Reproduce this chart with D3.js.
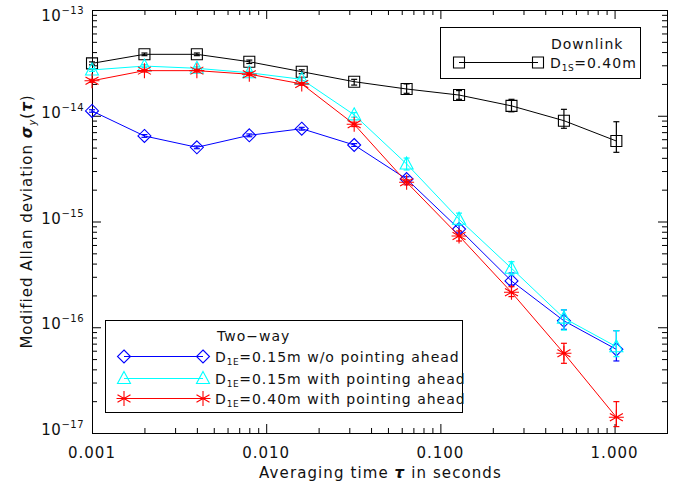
<!DOCTYPE html>
<html>
<head>
<meta charset="utf-8">
<script src="https://cdn.jsdelivr.net/npm/d3@7"></script>
<style>
  html, body { margin: 0; padding: 0; background: #fff; }
  svg { display: block; }
  text { font-family: "DejaVu Sans", sans-serif; fill: #111; }
</style>
</head>
<body>
<svg id="chart" width="685" height="487"></svg>
<script>
// Averaging times (s)
const tau = [0.001, 0.002, 0.004, 0.008, 0.016, 0.032, 0.064, 0.128, 0.256, 0.512, 1.024];

// Downlink, D1S = 0.40 m
const downVal = [3.13e-14, 3.81e-14, 3.81e-14, 3.24e-14, 2.61e-14, 2.10e-14, 1.79e-14, 1.57e-14, 1.24e-14, 8.98e-15, 5.77e-15];
const downLo  = [3.03e-14, 3.70e-14, 3.70e-14, 3.12e-14, 2.50e-14, 1.95e-14, 1.63e-14, 1.43e-14, 1.09e-14, 7.61e-15, 4.51e-15];
const downHi  = [3.23e-14, 3.92e-14, 3.92e-14, 3.36e-14, 2.72e-14, 2.21e-14, 2.00e-14, 1.73e-14, 1.43e-14, 1.15e-14, 8.78e-15];

// Two-way, D1E = 0.15 m without pointing ahead
const woVal = [1.11e-14, 6.44e-15, 5.03e-15, 6.53e-15, 7.54e-15, 5.29e-15, 2.52e-15, 8.49e-16, 2.74e-16, 1.15e-16, 6.18e-17];
const woLo  = [1.08e-14, 6.25e-15, 4.88e-15, 6.33e-15, 7.31e-15, 5.13e-15, 2.40e-15, 7.79e-16, 2.51e-16, 9.56e-17, 4.80e-17];
const woHi  = [1.14e-14, 6.63e-15, 5.18e-15, 6.73e-15, 7.77e-15, 5.45e-15, 2.65e-15, 9.27e-16, 3.26e-16, 1.46e-16, 9.28e-17];

// Two-way, D1E = 0.15 m with pointing ahead
const w15Val = [2.71e-14, 2.95e-14, 2.81e-14, 2.55e-14, 2.21e-14, 1.02e-14, 3.50e-15, 1.05e-15, 3.61e-16, 1.22e-16, 6.55e-17];
const w15Lo  = [2.63e-14, 2.86e-14, 2.72e-14, 2.47e-14, 2.14e-14, 9.7e-15, 3.07e-15, 9.27e-16, 3.12e-16, 9.4e-17, 5.27e-17];
const w15Hi  = [2.79e-14, 3.04e-14, 2.90e-14, 2.63e-14, 2.28e-14, 1.07e-14, 3.98e-15, 1.20e-15, 4.17e-16, 1.46e-16, 9.28e-17];

// Two-way, D1E = 0.40 m with pointing ahead
const w40Val = [2.14e-14, 2.67e-14, 2.67e-14, 2.47e-14, 2.00e-14, 8.30e-15, 2.35e-15, 7.30e-16, 2.14e-16, 5.67e-17, 1.41e-17];
const w40Lo  = [2.07e-14, 2.59e-14, 2.59e-14, 2.39e-14, 1.94e-14, 7.9e-15, 2.22e-15, 6.54e-16, 1.95e-16, 4.56e-17, 1.15e-17];
const w40Hi  = [2.21e-14, 2.75e-14, 2.75e-14, 2.55e-14, 2.06e-14, 8.7e-15, 2.48e-15, 8.13e-16, 2.42e-16, 7.05e-17, 1.98e-17];

// Axis ticks and labels
const xMajor = [0.001, 0.01, 0.1, 1];
const xLabels = ["0.001", "0.010", "0.100", "1.000"];
const yMajor = [1e-13, 1e-14, 1e-15, 1e-16, 1e-17];
const yExp = ["\u221213", "\u221214", "\u221215", "\u221216", "\u221217"];

const svg = d3.select("#chart");
const m = { left: 92, top: 10, right: 667, bottom: 433 };

const x = d3.scaleLog().domain([0.001, 2.0]).range([m.left, m.right]);
const y = d3.scaleLog().domain([1e-17, 1e-13]).range([m.bottom, m.top]);

// minor tick values: 2..9 in each decade
function minors(lo, hi) {
  const out = [];
  for (let e = Math.floor(Math.log10(lo)); e <= Math.ceil(Math.log10(hi)); e++) {
    for (let k = 2; k <= 9; k++) {
      const v = k * Math.pow(10, e);
      if (v > lo * 1.0001 && v < hi * 0.9999) out.push(v);
    }
  }
  return out;
}
const xMinor = minors(0.001, 2.0);
const yMinor = minors(1e-17, 1e-13);

const MAJ = 9, MIN = 5;
function tickAxis(gen, vals, size) {
  return gen.tickValues(vals).tickSize(size).tickSizeOuter(0).tickFormat("");
}
function drawAxis(axis, tx, ty) {
  const g = svg.append("g").attr("transform", `translate(${tx},${ty})`).call(axis);
  g.select(".domain").remove();
  g.selectAll(".tick line").attr("stroke", "#000").attr("stroke-width", 1);
  return g;
}
// ticks point inward on all four sides
drawAxis(tickAxis(d3.axisBottom(x), xMajor, -MAJ), 0, m.bottom);
drawAxis(tickAxis(d3.axisBottom(x), xMinor, -MIN), 0, m.bottom);
drawAxis(tickAxis(d3.axisTop(x), xMajor, -MAJ), 0, m.top);
drawAxis(tickAxis(d3.axisTop(x), xMinor, -MIN), 0, m.top);
drawAxis(tickAxis(d3.axisLeft(y), yMajor, -MAJ), m.left, 0);
drawAxis(tickAxis(d3.axisLeft(y), yMinor, -MIN), m.left, 0);
drawAxis(tickAxis(d3.axisRight(y), yMajor, -MAJ), m.right, 0);
drawAxis(tickAxis(d3.axisRight(y), yMinor, -MIN), m.right, 0);

// frame
svg.append("rect")
  .attr("x", m.left + 0.5).attr("y", m.top + 0.5)
  .attr("width", m.right - m.left).attr("height", m.bottom - m.top)
  .attr("fill", "none").attr("stroke", "#000").attr("stroke-width", 1);

// x tick labels
svg.append("g").selectAll("text").data(xMajor).join("text")
  .attr("x", d => x(d)).attr("y", 458)
  .attr("text-anchor", "middle")
  .style("font-size", "15px").style("letter-spacing", "1px")
  .text((d, i) => xLabels[i]);

// y tick labels: 10 with superscript exponent
const yl = svg.append("g").selectAll("text").data(yMajor).join("text")
  .attr("x", 84).attr("y", d => Math.max(y(d) + 2, 21))
  .attr("text-anchor", "end")
  .style("font-size", "15px").style("letter-spacing", "0.5px");
yl.append("tspan").text("10");
yl.append("tspan").attr("dy", -7).style("font-size", "10px").text((d, i) => yExp[i]);

// axis titles
const xt = svg.append("text").attr("x", m.left + (m.right - m.left) / 2 + 1).attr("y", 478)
  .attr("text-anchor", "middle").style("font-size", "15px").style("letter-spacing", "1.1px");
xt.append("tspan").text("Averaging time ");
xt.append("tspan").style("font-style", "italic").style("font-weight", "bold").text("\u03c4");
xt.append("tspan").text(" in seconds");

const yt = svg.append("text")
  .attr("transform", `translate(32,${(m.top + m.bottom) / 2}) rotate(-90)`)
  .attr("text-anchor", "middle").style("font-size", "15px").style("letter-spacing", "1px");
yt.append("tspan").text("Modified Allan deviation ");
yt.append("tspan").style("font-style", "italic").style("font-weight", "bold").text("\u03c3");
yt.append("tspan").attr("dy", 4).style("font-size", "10px").style("font-style", "italic").text("y");
yt.append("tspan").attr("dy", -4).text("(");
yt.append("tspan").style("font-style", "italic").style("font-weight", "bold").text("\u03c4");
yt.append("tspan").text(")");

// marker shapes
const markers = {
  square: "M-5.5,-5.5H5.5V5.5H-5.5Z",
  diamond: "M0,-6.5L6.5,0L0,6.5L-6.5,0Z",
  triangle: "M0,-7L6.5,5L-6.5,5Z",
  asterisk: "M0,-7.5V7.5M-6.5,-3.75L6.5,3.75M-6.5,3.75L6.5,-3.75M-7.5,0H7.5"
};

const series = [
  { val: downVal, lo: downLo, hi: downHi, color: "#000000", mk: "square" },
  { val: woVal, lo: woLo, hi: woHi, color: "#0000ff", mk: "diamond" },
  { val: w15Val, lo: w15Lo, hi: w15Hi, color: "#00ffff", mk: "triangle" },
  { val: w40Val, lo: w40Lo, hi: w40Hi, color: "#ff0000", mk: "asterisk" }
];

const line = d3.line().x(d => x(d[0])).y(d => y(d[1]));
const plot = svg.append("g");
series.forEach(s => {
  const pts = tau.map((t, i) => [t, s.val[i], s.lo[i], s.hi[i]]);
  const g = plot.append("g");
  g.append("path").datum(pts).attr("d", line)
    .attr("fill", "none").attr("stroke", s.color).attr("stroke-width", 1);
  // error bars
  const eb = g.selectAll("g.eb").data(pts).join("g").attr("class", "eb")
    .attr("stroke", s.color).attr("stroke-width", 1.2).attr("fill", "none");
  eb.append("line").attr("x1", d => x(d[0])).attr("x2", d => x(d[0]))
    .attr("y1", d => y(d[2])).attr("y2", d => y(d[3]));
  eb.append("line").attr("x1", d => x(d[0]) - 3).attr("x2", d => x(d[0]) + 3)
    .attr("y1", d => y(d[2])).attr("y2", d => y(d[2]));
  eb.append("line").attr("x1", d => x(d[0]) - 3).attr("x2", d => x(d[0]) + 3)
    .attr("y1", d => y(d[3])).attr("y2", d => y(d[3]));
  // markers
  g.selectAll("path.mk").data(pts).join("path").attr("class", "mk")
    .attr("transform", d => `translate(${x(d[0])},${y(d[1])})`)
    .attr("d", markers[s.mk])
    .attr("fill", "none").attr("stroke", s.color).attr("stroke-width", 1.1);
});

// legends
function legendEntry(g, x1, x2, yy, color, mk, label, sub, rest) {
  g.append("line").attr("x1", x1).attr("x2", x2).attr("y1", yy).attr("y2", yy)
    .attr("stroke", color).attr("stroke-width", 1);
  [x1, x2].forEach(px => g.append("path")
    .attr("transform", `translate(${px},${yy})`).attr("d", markers[mk])
    .attr("fill", "none").attr("stroke", color).attr("stroke-width", 1.1));
  const t = g.append("text").attr("x", x2 + 12).attr("y", yy + 5)
    .style("font-size", "14px").style("letter-spacing", "1px");
  t.append("tspan").text(label);
  t.append("tspan").attr("dy", 3).style("font-size", "9px").style("letter-spacing", "0.5px").text(sub);
  t.append("tspan").attr("dy", -3).text(rest);
}

const lg1 = svg.append("g");
lg1.append("rect").attr("x", 440.5).attr("y", 27.5).attr("width", 200).attr("height", 51)
  .attr("fill", "#fff").attr("stroke", "#000");
lg1.append("text").attr("x", 551).attr("y", 49).style("font-size", "14px").style("letter-spacing", "1px").text("Downlink");
legendEntry(lg1, 459, 538, 62.5, "#000000", "square", "D", "1S", "=0.40m");

const lg2 = svg.append("g");
lg2.append("rect").attr("x", 105.5).attr("y", 320.5).attr("width", 357).attr("height", 92)
  .attr("fill", "#fff").attr("stroke", "#000");
lg2.append("text").attr("x", 217).attr("y", 341).style("font-size", "14px").style("letter-spacing", "1px").text("Two\u2212way");
legendEntry(lg2, 124, 203, 356.5, "#0000ff", "diamond", "D", "1E", "=0.15m w/o pointing ahead");
legendEntry(lg2, 124, 203, 378.5, "#00ffff", "triangle", "D", "1E", "=0.15m with pointing ahead");
legendEntry(lg2, 124, 203, 398.5, "#ff0000", "asterisk", "D", "1E", "=0.40m with pointing ahead");
</script>
</body>
</html>
